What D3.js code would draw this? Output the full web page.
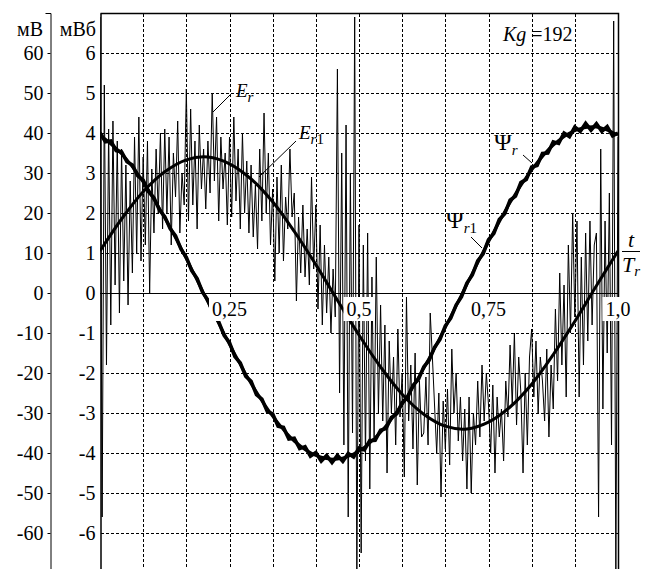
<!DOCTYPE html>
<html>
<head>
<meta charset="utf-8">
<script src="https://cdn.jsdelivr.net/npm/d3@7"></script>
<style>
body { margin: 0; background: #fff; }
text { font-family: "Liberation Serif", "Times New Roman", "DejaVu Serif", serif; font-size: 20px; fill: #000; }
</style>
</head>
<body>
<svg width="649" height="569" font-family="Liberation Serif"></svg>
<script>
// tick values of both vertical axes and the time axis
let mvTicks = [60, 50, 40, 30, 20, 10, 0, -10, -20, -30, -40, -50, -60];
let mwbTicks = [6, 5, 4, 3, 2, 1, 0, -1, -2, -3, -4, -5, -6];
let tTicks = [0.25, 0.5, 0.75, 1.0];
let tTickLabels = ["0,25", "0,5", "0,75", "1,0"];

let Er = [
    6.9, -5.6, 5.2, -1.8, 4.1, -0.8, 4.3, 0.2, 3.8, -0.5,
    3.6, 0.3, 3.2, -0.3, 2.8, 0.5, 3.9, 1.0, 4.4, 0.8,
    3.4, 1.2, 3.8, 0.0, 3.1, 1.5, 3.6, 2.0, 4.0, 1.6,
    4.1, 2.0, 3.9, 1.2, 3.5, 2.4, 4.3, 1.5, 3.0, 2.2,
    5.1, 1.8, 4.6, 2.2, 3.8, 1.6, 4.2, 2.6, 3.6, 2.1,
    3.8, 2.5, 5.0, 2.8, 4.4, 1.8, 3.9, 2.6, 3.5, 1.7,
    3.9, 1.9, 4.4, 2.3, 3.6, 1.6, 4.0, 2.0, 3.3, 1.5,
    3.2, 1.4, 2.7, 1.1, 3.6, 1.8, 4.5, 2.0, 3.5, 1.2,
    2.6, 0.3, 2.9, 1.0, 3.2, 0.8, 2.4, 1.6, 3.6, 1.9,
    2.5, -0.2, 1.9, 0.5, 2.2, 0.4, 1.6, 0.2, 2.9, 0.6,
    2.2, -0.4, 1.7, -0.8, 1.2, -0.5, 0.9, -1.0, 0.6, -0.6,
    5.6, -2.5, 3.5, -3.8, 4.2, -5.6, 3.0, -3.5, 6.9, -7.2,
    1.7, -6.5, 1.2, -4.2, 1.5, -4.9, 0.4, -3.6, 0.9, -3.0,
    -0.3, -3.2, -0.8, -4.5, -1.2, -3.0, -1.6, -3.8, -0.9, -3.1,
    -2.0, -4.6, -0.1, -3.2, -1.8, -3.9, -1.5, -4.8, -2.2, -3.6,
    -3.5, -2.1, -3.8, -0.5, -1.6, -2.8, -4.0, -2.5, -5.1, -2.7,
    -3.9, -2.4, -4.3, -1.4, -3.0, -2.0, -3.7, -2.6, -4.2, -2.9,
    -4.9, -2.6, -5.0, -3.0, -3.8, -2.2, -3.6, -1.8, -3.2, -2.0,
    -2.8, -4.0, -2.3, -4.5, -2.6, -3.6, -2.9, -4.2, -2.2, -3.1,
    -1.3, -2.8, -1.0, -3.3, -1.6, -2.5, -4.5, -2.0, -3.8, -1.6,
    -0.9, -2.6, -1.2, -3.0, -1.6, -2.2, -3.2, -1.4, -3.6, -1.8,
    -2.9, -0.4, -2.2, 0.5, -1.8, 0.2, -2.6, 1.2, -1.0, 2.0,
    -0.6, 1.8, -2.6, 0.9, -1.8, 1.5, -1.2, 1.8, -0.8, 1.2,
    1.5, -5.6, 3.6, -2.9, 1.8, -1.5, 2.5, -3.8, 6.8, -7.2, 3.9
];

// E_r1, smooth emf, 25 samples (step 1/24)
let Er1 = [1.05, 1.85, 2.53, 3.03, 3.33, 3.40, 3.23, 2.85, 2.28, 1.54, 0.71, -0.18,
    -1.05, -1.85, -2.53, -3.03, -3.33, -3.40, -3.23, -2.85, -2.28, -1.54, -0.71, 0.18, 1.05];

// Psi_r, measured flux, 97 samples (step 1/96)
let Psir = [
    4.01, 3.78, 3.80, 3.56, 3.53, 3.28, 3.20, 2.93, 2.82, 2.53, 2.38, 2.08,
    1.91, 1.61, 1.43, 1.10, 0.89, 0.56, 0.36, 0.02, -0.18, -0.53, -0.72, -1.06,
    -1.24, -1.59, -1.75, -2.08, -2.21, -2.54, -2.65, -2.96, -3.02, -3.33, -3.36, -3.65,
    -3.63, -3.89, -3.84, -4.08, -3.99, -4.20, -4.06, -4.24, -4.06, -4.21, -4.01, -4.10,
    -3.88, -3.92, -3.69, -3.68, -3.43, -3.39, -3.11, -3.02, -2.74, -2.61, -2.31, -2.16,
    -1.85, -1.68, -1.36, -1.16, -0.82, -0.63, -0.30, -0.09, 0.25, 0.45, 0.80, 0.98,
    1.33, 1.49, 1.84, 1.98, 2.32, 2.42, 2.76, 2.84, 3.15, 3.19, 3.49, 3.50,
    3.78, 3.74, 4.00, 3.91, 4.15, 4.04, 4.24, 4.07, 4.23, 4.04, 4.16, 3.93, 4.00
];

// Psi_r1, smooth flux, 25 samples (step 1/24)
let Psir1 = [3.95, 3.48, 2.78, 1.88, 0.86, -0.22, -1.28, -2.26, -3.08, -3.70, -4.06, -4.15,
    -3.95, -3.48, -2.78, -1.88, -0.86, 0.22, 1.28, 2.26, 3.08, 3.70, 4.06, 4.15, 3.95];

let svg = d3.select("svg");

let x = d3.scaleLinear().domain([0, 1]).range([100, 618]),
    y = d3.scaleLinear().domain([-7, 7]).range([573, 13]),
    yMv = d3.scaleLinear().domain([-70, 70]).range([573, 13]);

let px = v => Math.round(v) + 0.5;

svg.append("defs").append("clipPath")
    .attr("id", "clip")
    .append("rect")
    .attr("x", 100).attr("y", 13)
    .attr("width", 519).attr("height", 560);

// dotted grid
let grid = svg.append("g")
    .attr("stroke", "#000")
    .attr("stroke-width", 1)
    .attr("stroke-dasharray", "3,2");
grid.selectAll(".gx")
    .data(d3.range(1, 12).map(k => k / 12))
    .join("line")
    .attr("x1", d => px(x(d))).attr("x2", d => px(x(d)))
    .attr("y1", 14).attr("y2", 569);
grid.selectAll(".gy")
    .data(mwbTicks.filter(d => d !== 0))
    .join("line")
    .attr("x1", 101).attr("x2", 618)
    .attr("y1", d => px(y(d))).attr("y2", d => px(y(d)));

// frame and time axis
svg.append("path")
    .attr("d", "M" + px(x(0)) + "," + px(y(7)) + "H" + px(x(1)) + "V569")
    .attr("fill", "none").attr("stroke", "#000").attr("stroke-width", 1.5);
svg.append("line")
    .attr("x1", x(0)).attr("x2", x(1))
    .attr("y1", px(y(0))).attr("y2", px(y(0)))
    .attr("stroke", "#000");

// mV axis
let mvAxis = svg.append("g")
    .attr("transform", "translate(50.5,0)")
    .call(d3.axisLeft(yMv).tickValues(mvTicks).tickSize(3).tickSizeOuter(5).tickPadding(4).tickFormat(d => String(d)));
mvAxis.attr("font-size", null).attr("font-family", null);

// mWb axis
let mwbAxis = svg.append("g")
    .attr("transform", "translate(100.5,0)")
    .call(d3.axisLeft(y).tickValues(mwbTicks).tickSize(0).tickSizeOuter(0).tickPadding(5).tickFormat(d => String(d)));
mwbAxis.attr("font-size", null).attr("font-family", null);
mwbAxis.select(".domain").attr("stroke-width", 1.5);

svg.append("text").attr("x", 43).attr("y", 36).attr("text-anchor", "end").text("мВ");
svg.append("text").attr("x", 96).attr("y", 36).attr("text-anchor", "end").text("мВб");

// curves
let plot = svg.append("g").attr("clip-path", "url(#clip)");

let lineOf = n => d3.line().x((d, i) => x(i / (n - 1))).y(d => y(d));

plot.append("path").datum(Er)
    .attr("d", lineOf(Er.length))
    .attr("fill", "none").attr("stroke", "#000").attr("stroke-width", 1);
plot.append("path").datum(Psir)
    .attr("d", lineOf(Psir.length))
    .attr("fill", "none").attr("stroke", "#000").attr("stroke-width", 3.6)
    .attr("stroke-linejoin", "miter");
plot.append("path").datum(Er1)
    .attr("d", lineOf(Er1.length).curve(d3.curveCatmullRom))
    .attr("fill", "none").attr("stroke", "#000").attr("stroke-width", 3);
plot.append("path").datum(Psir1)
    .attr("d", lineOf(Psir1.length).curve(d3.curveCatmullRom))
    .attr("fill", "none").attr("stroke", "#000").attr("stroke-width", 3);

// time tick labels on white boxes
tTicks.forEach((t, i) => {
    let g = svg.append("g");
    let box = g.append("rect").attr("fill", "#fff");
    let label = g.append("text")
        .attr("x", x(t)).attr("y", 316)
        .attr("text-anchor", "middle")
        .text(tTickLabels[i]);
    let b = label.node().getBBox();
    box.attr("x", b.x - 3).attr("y", 297)
        .attr("width", b.width + 6).attr("height", 24);
});

// leader lines
let leaders = [[232, 93, 213, 112], [296, 141, 259, 177], [523, 155, 532, 163], [471, 237, 482, 248]];
svg.append("g").selectAll("line").data(leaders).join("line")
    .attr("x1", d => d[0]).attr("y1", d => d[1])
    .attr("x2", d => d[2]).attr("y2", d => d[3])
    .attr("stroke", "#000").attr("stroke-width", 1);

function label(xp, yp, main, sub, big, italicMain) {
    let t = svg.append("text").attr("x", xp).attr("y", yp);
    t.append("tspan").text(main)
        .style("font-size", big + "px")
        .style("font-style", italicMain ? "italic" : "normal");
    t.append("tspan").text("r")
        .attr("dy", 5)
        .style("font-size", "15px").style("font-style", "italic");
    if (sub) t.append("tspan").text(sub).style("font-size", "15px");
}
label(236, 97, "E", "", 19, true);
label(299, 139, "E", "1", 19, true);
label(494, 150, "Ψ", "", 24, false);
label(446, 228, "Ψ", "1", 24, false);

let kg = svg.append("text").attr("x", 503).attr("y", 41);
kg.append("tspan").text("Kg").style("font-style", "italic");
kg.append("tspan").text(" =192");

// t / Tr
svg.append("text").attr("x", 631).attr("y", 247).attr("text-anchor", "middle")
    .style("font-style", "italic").style("font-size", "22px").text("t");
svg.append("line").attr("x1", 622).attr("x2", 640).attr("y1", 251.5).attr("y2", 251.5)
    .attr("stroke", "#000");
let tr = svg.append("text").attr("x", 622).attr("y", 272);
tr.append("tspan").text("T").style("font-style", "italic").style("font-size", "22px");
tr.append("tspan").text("r").attr("dy", 4).style("font-style", "italic").style("font-size", "15px");
</script>
</body>
</html>
